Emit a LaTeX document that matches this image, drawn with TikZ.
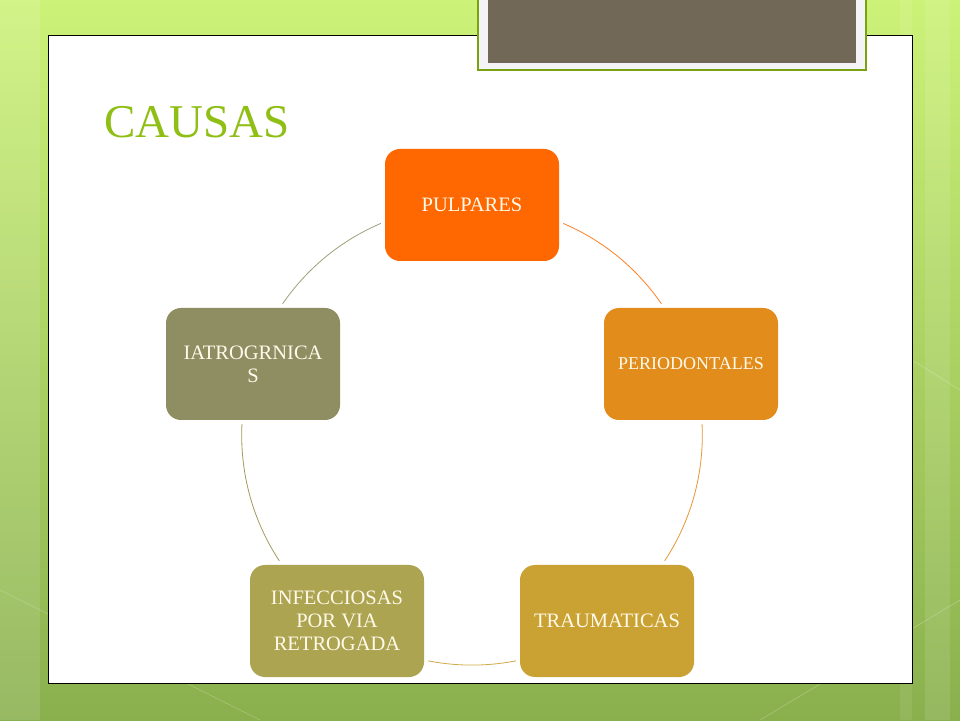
\documentclass[tikz,border=0pt]{standalone}
\usepackage{fontspec}
\setmainfont{Liberation Serif}
\pgfdeclarelayer{bg}
\pgfdeclarelayer{arcs}
\pgfsetlayers{bg,arcs,main}
\definecolor{titlegreen}{RGB}{143,190,20}
\definecolor{cream}{RGB}{255,250,235}
\definecolor{cPul}{RGB}{255,104,0}
\definecolor{cPer}{RGB}{226,140,28}
\definecolor{cTra}{RGB}{202,162,52}
\definecolor{cInf}{RGB}{172,164,80}
\definecolor{cIat}{RGB}{143,142,98}
\definecolor{slate}{RGB}{113,104,88}
\tikzset{
  causa/.style={rounded corners=15pt, minimum width=174pt, minimum height=112pt,
    align=center, text=cream, font=\fontsize{20.5}{23}\selectfont,
    preaction={draw=white, line width=8pt}},
  ring/.style={line width=0.8pt, bend left=36, looseness=0.95}
}
\begin{document}
\begin{tikzpicture}[x=1pt,y=1pt]
\useasboundingbox (0,0) rectangle (960,720);
% background and slide
\begin{pgfonlayer}{bg}
\shade[top color={rgb,255:red,204;green,242;blue,120}, bottom color={rgb,255:red,138;green,176;blue,78}] (0,0) rectangle (960,720);
\fill[white,opacity=0.12] (0,0) rectangle (40,720);
\fill[white,opacity=0.10] (925,0) rectangle (950,720);
\fill[white,opacity=0.08] (900,0) rectangle (912,720);
\draw[white,opacity=0.25,line width=0.6pt] (260,0) -- (0,130);
\draw[white,opacity=0.25,line width=0.6pt] (760,0) -- (960,120);
\draw[white,opacity=0.25,line width=0.6pt] (912,360) -- (960,330);
\draw[fill=white,line width=0.8pt] (48,37) rectangle (912,685);
\draw[titlegreen!85!black,fill={rgb,255:red,244;green,244;blue,246},line width=1.5pt] (478,650) rectangle (866,730);
\fill[slate] (488,657) rectangle (856,730);
\end{pgfonlayer}
\node[anchor=base west,text=titlegreen,font=\fontsize{47}{50}\selectfont,inner sep=0pt] (title) at (104,582) {CAUSAS};
% the five boxes
\node[causa,fill=cPul] (pul) at (472,515) {PULPARES};
\node[causa,fill=cPer,font=\fontsize{18}{21}\selectfont] (per) at (691,356) {PERIODONTALES};
\node[causa,fill=cTra] (tra) at (607,99) {TRAUMATICAS};
\node[causa,fill=cInf] (inf) at (337,99) {INFECCIOSAS\\POR VIA\\RETROGADA};
\node[causa,fill=cIat] (iat) at (253,356) {IATROGRNICA\\S};
% ring
\begin{pgfonlayer}{arcs}
\foreach \a/\b/\c in {pul/per/{cPul!85!white}, per/tra/{cPer!90!white}, tra/inf/{cTra!90!white}, inf/iat/{cInf!75!gray}, iat/pul/{cIat!85!white}}
  \draw[ring,color=\c] (\a.center) to (\b.center);
\end{pgfonlayer}
\end{tikzpicture}
\end{document}
